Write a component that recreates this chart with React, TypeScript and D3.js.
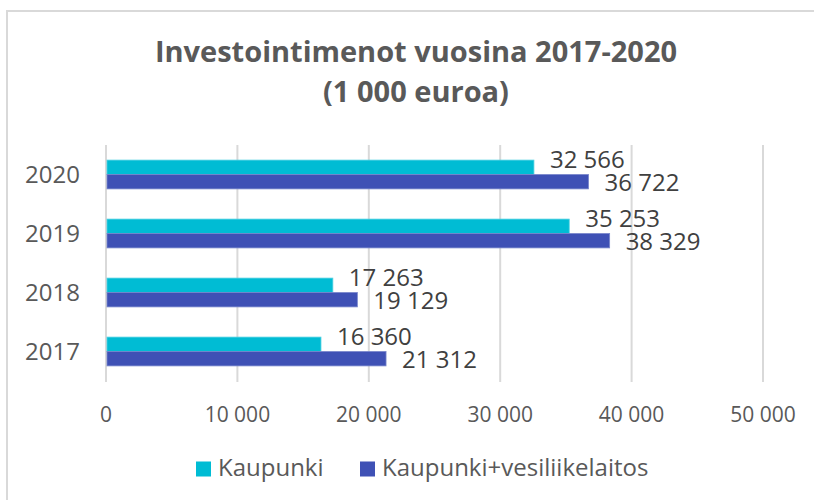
import React from "react";
import * as d3 from "d3";

const years = ["2017", "2018", "2019", "2020"];
const kaupunki = [16360, 17263, 35253, 32566];
const kaupunkiVesi = [21312, 19129, 38329, 36722];
const xTicks = [0, 10000, 20000, 30000, 40000, 50000];
const seriesNames = ["Kaupunki", "Kaupunki+vesiliikelaitos"];
const titleLines = ["Investointimenot vuosina 2017-2020", "(1 000 euroa)"];

const COLORS = ["#00BCD4", "#3F51B5"];
const STROKES = ["#4dd0e1", "#7986cb"];
const FONT = "'Open Sans', 'Noto Sans', sans-serif";

const fmt = (v: number) => d3.format(",")(v).replace(/,/g, " ");

export default function App() {
  const W = 814;
  const H = 500;
  const x = d3.scaleLinear().domain([0, 50000]).range([106, 763]);
  const y = d3
    .scaleBand<string>()
    .domain([...years].reverse())
    .range([145, 381])
    .padding(0);
  const barH = 14.4;
  const series = [kaupunki, kaupunkiVesi];
  const labelOffset = [-7.5, 1];

  return (
    <svg
      width={W}
      height={H}
      style={{ position: "absolute", left: 0, top: 0, background: "#fff" }}
      fontFamily={FONT}
    >
      <rect x={0} y={0} width={W} height={H} fill="#fff" />
      <rect x={7} y={11} width={830} height={520} fill="#fff" stroke="#d9d9d9" strokeWidth={2} />
      {titleLines.map((t, i) => (
        <text
          key={t}
          x={416}
          y={62 + i * 40}
          textAnchor="middle"
          fontSize={29}
          fontWeight={700}
          fill="#595959"
        >
          {t}
        </text>
      ))}
      {xTicks.map((t) => (
        <g key={t}>
          <line x1={x(t)} x2={x(t)} y1={145} y2={382} stroke="#d9d9d9" strokeWidth={2} />
          <text x={x(t)} y={421.5} textAnchor="middle" fontSize={21} fill="#595959">
            {fmt(t)}
          </text>
        </g>
      ))}
      {years.map((yr, i) => {
        const c = (y(yr) as number) + y.bandwidth() / 2;
        return (
          <g key={yr}>
            <text x={80} y={c} dy="0.357em" textAnchor="end" fontSize={24} fill="#595959">
              {yr}
            </text>
            {series.map((s, k) => {
              const top = c - barH + k * barH;
              return (
                <g key={k}>
                  <rect
                    x={x(0) + 1}
                    y={top}
                    width={x(s[i]) - x(0) - 1}
                    height={barH}
                    fill={COLORS[k]}
                    stroke={STROKES[k]}
                    strokeWidth={0.8}
                  />
                  <text
                    x={x(s[i]) + 16}
                    y={top + barH / 2 + labelOffset[k]}
                    dy="0.357em"
                    fontSize={24}
                    fill="#404040"
                  >
                    {fmt(s[i])}
                  </text>
                </g>
              );
            })}
          </g>
        );
      })}
      {seriesNames.map((n, k) => {
        const lx = [196, 360][k];
        return (
          <g key={n}>
            <rect x={lx} y={461.5} width={15} height={15} fill={COLORS[k]} />
            <text x={lx + 22} y={476} fontSize={24} fill="#595959">
              {n}
            </text>
          </g>
        );
      })}
    </svg>
  );
}
